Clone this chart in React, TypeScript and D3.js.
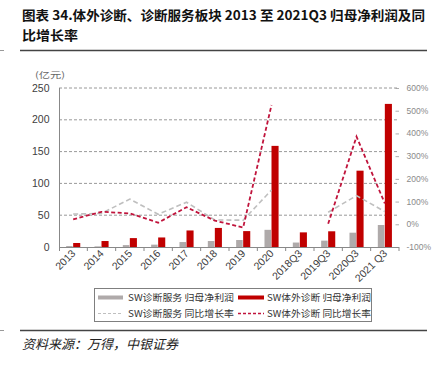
import React from "react";
import * as d3 from "d3";

const categories = ["2013", "2014", "2015", "2016", "2017", "2018", "2019", "2020", "2018Q3", "2019Q3", "2020Q3", "2021 Q3"];
const serviceProfit = [1.5, 1, 3, 3.7, 7.8, 9.4, 11, 27, 7, 10, 22.5, 34.6];
const ivdProfit = [6.3, 9.4, 14, 15, 26, 30, 25, 159, 23, 24.7, 120, 225];
const serviceGrowth: (number | null)[] = [45, 48, 111, 44, 97, 19, 18, 151, null, 53, 126, 56];
const ivdGrowth: (number | null)[] = [22, 55, 48, 7, 75, 16, -14, 525, null, 2, 386, 92];
const leftTicks = [0, 50, 100, 150, 200, 250];
const rightTicks = [-100, 0, 100, 200, 300, 400, 500, 600];
const legendLabels = ["SW诊断服务 归母净利润", "SW体外诊断 归母净利润", "SW诊断服务 同比增长率", "SW体外诊断 同比增长率"];

const NARROW = "'Liberation Sans Narrow', 'Arial Narrow', 'Liberation Sans', Arial, sans-serif";
const SANS = "'Liberation Sans', Arial, sans-serif";
const CJK = "'Noto Sans CJK SC', 'Noto Sans', sans-serif";

export default function App() {
  const x = d3.scaleBand<string>().domain(categories).range([59, 399]).padding(0);
  const yL = d3.scaleLinear().domain([0, 250]).range([247, 88]);
  const yR = d3.scaleLinear().domain([-100, 600]).range([247, 88]);
  const bw = x.bandwidth();
  const cx = (c: string) => (x(c) as number) + bw / 2;
  const grayW = bw * 0.23;
  const redW = bw * 0.25;

  const line = d3
    .line<number | null>()
    .defined((d) => d != null)
    .x((_, i) => cx(categories[i]))
    .y((d) => yR(d as number));

  return (
    <svg width={438} height={366} style={{ position: "absolute", left: 0, top: 0, background: "#fff" }}>
      <rect x={0} y={0} width={438} height={366} fill="#fff" />
      {/* title */}
      <text x={22} y={20} fontFamily={CJK} fontWeight="bold" fontSize={13} fill="#111" textLength={403} lengthAdjust="spacingAndGlyphs">
        图表 34.体外诊断、诊断服务板块 2013 至 2021Q3 归母净利润及同
      </text>
      <text x={22} y={39.5} fontFamily={CJK} fontWeight="bold" fontSize={13} fill="#111" textLength={56} lengthAdjust="spacingAndGlyphs">
        比增长率
      </text>
      <line x1={20} x2={427} y1={50.5} y2={50.5} stroke="#444" strokeWidth={1.3} />
      <line x1={0} x2={4} y1={50.5} y2={50.5} stroke="#999" strokeWidth={1} />

      {/* unit */}
      <text x={35} y={78} fontFamily={CJK} fontSize={8.5} fill="#666" textLength={30} lengthAdjust="spacingAndGlyphs">
        (亿元)
      </text>

      {/* gridlines */}
      {leftTicks.filter((t) => t > 0).map((t) => (
        <line key={t} x1={59} x2={399} y1={yL(t)} y2={yL(t)} stroke="#7f7f7f" strokeWidth={0.8} strokeDasharray="3,2" />
      ))}

      {/* left axis */}
      <line x1={59.5} x2={59.5} y1={88} y2={247} stroke="#888" strokeWidth={1} />
      {leftTicks.map((t) => (
        <text key={t} x={49.5} y={yL(t) + 3.5} textAnchor="end" fontFamily={NARROW} fontSize={10.5} fill="#404040">
          {t}
        </text>
      ))}
      {/* right axis ticks and labels */}
      {rightTicks.map((t) => (
        <g key={t}>
          <line x1={395.5} x2={399} y1={yR(t) + 0.5} y2={yR(t) + 0.5} stroke="#999" strokeWidth={0.8} />
          <text x={406.5} y={yR(t) + 3} fontFamily={SANS} fontSize={8.5} fill="#8a8a8a">
            {t}%
          </text>
        </g>
      ))}

      {/* bars */}
      {categories.map((c, i) => (
        <g key={c}>
          <rect x={cx(c) - grayW - 0.5} y={yL(serviceProfit[i])} width={grayW} height={247 - yL(serviceProfit[i])} fill="#AFAAAA" />
          <rect x={cx(c)} y={yL(ivdProfit[i])} width={redW} height={247 - yL(ivdProfit[i])} fill="#C00000" />
        </g>
      ))}

      {/* bottom axis */}
      <line x1={59} x2={399} y1={247.5} y2={247.5} stroke="#888" strokeWidth={1} />
      {categories.map((c) => (
        <line key={c} x1={(x(c) as number) + bw} x2={(x(c) as number) + bw} y1={247} y2={251} stroke="#888" strokeWidth={1} />
      ))}
      <line x1={59.5} x2={59.5} y1={247} y2={251} stroke="#888" strokeWidth={1} />
      {categories.map((c) => (
        <text
          key={c}
          transform={`translate(${cx(c) + 3},${254}) rotate(-45)`}
          textAnchor="end"
          fontFamily={NARROW}
          fontSize={10.5}
          fill="#404040"
        >
          {c}
        </text>
      ))}

      {/* lines */}
      <path d={line(serviceGrowth) || ""} fill="none" stroke="#BFBFBF" strokeWidth={1.6} strokeDasharray="5,3" />
      <path d={line(ivdGrowth) || ""} fill="none" stroke="#C0143C" strokeWidth={1.8} strokeDasharray="4,2.5" />

      {/* legend */}
      <rect x={94.5} y={288.5} width={277} height={33} fill="#fff" stroke="#7f7f7f" strokeWidth={1} />
      <rect x={98} y={295.5} width={25} height={4} fill="#AFAAAA" />
      <text x={128} y={300.5} fontFamily={CJK} fontSize={9.5} fill="#333" textLength={106} lengthAdjust="spacingAndGlyphs">
        {legendLabels[0]}
      </text>
      <rect x={238} y={295.5} width={26} height={4} fill="#C00000" />
      <text x={267} y={300.5} fontFamily={CJK} fontSize={9.5} fill="#333" textLength={104} lengthAdjust="spacingAndGlyphs">
        {legendLabels[1]}
      </text>
      <line x1={98} x2={123} y1={313.5} y2={313.5} stroke="#BFBFBF" strokeWidth={1.2} strokeDasharray="3,2" />
      <text x={128} y={317} fontFamily={CJK} fontSize={9.5} fill="#333" textLength={106} lengthAdjust="spacingAndGlyphs">
        {legendLabels[2]}
      </text>
      <line x1={238} x2={264} y1={313.5} y2={313.5} stroke="#C0143C" strokeWidth={1.6} strokeDasharray="3,2" />
      <text x={267} y={317} fontFamily={CJK} fontSize={9.5} fill="#333" textLength={104} lengthAdjust="spacingAndGlyphs">
        {legendLabels[3]}
      </text>

      {/* source */}
      <line x1={20} x2={427} y1={330.5} y2={330.5} stroke="#444" strokeWidth={1.3} />
      <line x1={0} x2={4} y1={330.5} y2={330.5} stroke="#999" strokeWidth={1} />
      <text x={22} y={349} fontFamily={CJK} fontStyle="italic" fontSize={13} fill="#222" textLength={156} lengthAdjust="spacingAndGlyphs">
        资料来源：万得，中银证券
      </text>
    </svg>
  );
}
